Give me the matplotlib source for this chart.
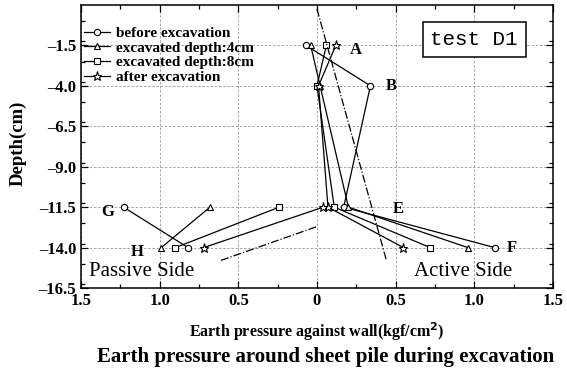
import matplotlib
matplotlib.use("Agg")
import matplotlib.pyplot as plt
from matplotlib.ticker import MultipleLocator

plt.rcParams["font.family"] = ["Liberation Serif", "DejaVu Serif"]

# depths (cm)
depth_active = [-1.5, -4.0, -11.5, -14.0]
depth_passive = [-11.5, -14.0]

# active side earth pressure (kgf/cm2), plotted to the right
before_active = [-0.07, 0.34, 0.17, 1.13]
exc4_active = [-0.04, 0.02, 0.20, 0.96]
exc8_active = [0.06, 0.00, 0.11, 0.72]
after_active = [0.12, 0.01, 0.07, 0.55]

# passive side earth pressure, plotted to the left (negative)
before_passive = [-1.23, -0.82]
exc4_passive = [-0.68, -0.99]
exc8_passive = [-0.24, -0.90]
after_passive = [0.04, -0.72]

# theoretical lines (dash-dot)
theory_active_x = [0.0, 0.44]
theory_active_y = [0.76, -14.73]
theory_passive_x = [-0.61, 0.0]
theory_passive_y = [-14.79, -12.7]

series = [
    ("before excavation", "o", before_active, before_passive),
    ("excavated depth:4cm", "^", exc4_active, exc4_passive),
    ("excavated depth:8cm", "s", exc8_active, exc8_passive),
    ("after excavation", "*", after_active, after_passive),
]

xticks = [-1.5, -1.0, -0.5, 0.0, 0.5, 1.0, 1.5]
xticklabels = ["1.5", "1.0", "0.5", "0", "0.5", "1.0", "1.5"]
yticks = [-1.5, -4.0, -6.5, -9.0, -11.5, -14.0, -16.5]

fig = plt.figure(figsize=(5.67, 3.78), dpi=100)
ax = fig.add_axes([0.143, 0.238, 0.832, 0.749])

for label, m, act, pas in series:
    ms = 6.5 if m == "*" else 4.5
    ax.plot(act, depth_active, color="black", lw=0.9, marker=m, ms=ms,
            mfc="white", mec="black", mew=0.8, label=label)
    ax.plot(pas, depth_passive, color="black", lw=0.9, marker=m, ms=ms,
            mfc="white", mec="black", mew=0.8)

ax.plot(theory_active_x, theory_active_y, color="black", lw=0.9, ls="-.")
ax.plot(theory_passive_x, theory_passive_y, color="black", lw=0.9, ls="-.")

ax.set_xlim(-1.5, 1.5)
ax.set_ylim(-16.5, 1.0)
ax.set_xticks(xticks)
ax.set_xticklabels(xticklabels)
ax.set_yticks(yticks)
ax.set_yticklabels([f"{v:.1f}".replace("-", "\u2013") for v in yticks])
ax.xaxis.set_minor_locator(MultipleLocator(0.25))
ax.yaxis.set_minor_locator(MultipleLocator(1.25))
ax.tick_params(which="both", direction="in", top=True, right=True, width=0.9)
ax.tick_params(which="major", length=5, labelsize=12)
ax.tick_params(which="minor", length=3)
for t in ax.get_xticklabels() + ax.get_yticklabels():
    t.set_fontweight("bold")
for s in ax.spines.values():
    s.set_linewidth(1.1)
ax.grid(True, which="major", ls=(0, (3, 2)), color="#999999", lw=0.6)

ax.set_ylabel("Depth(cm)", fontsize=13.5, fontweight="bold", va="center")
ax.yaxis.set_label_coords(-0.133, 0.51)
ax.set_xlabel("Earth pressure against wall(kgf/cm$^\\mathbf{2}$)", fontsize=11.5,
              fontweight="bold", labelpad=8)

for txt, x, y in [("A", 0.25, -1.8), ("B", 0.47, -4.0), ("E", 0.52, -11.6),
                  ("F", 1.24, -14.0), ("G", -1.33, -11.8), ("H", -1.14, -14.3)]:
    ax.text(x, y, txt, fontsize=12, fontweight="bold", ha="center", va="center")

ax.text(-1.45, -15.5, "Passive Side", fontsize=15, ha="left", va="center")
ax.text(1.24, -15.5, "Active Side", fontsize=15, ha="right", va="center")

ax.text(1.0, -1.13, "test D1", fontsize=15, family="Liberation Mono",
        ha="center", va="center",
        bbox=dict(boxstyle="square,pad=0.38", fc="white", ec="black", lw=1.1))

leg = ax.legend(loc="upper left", bbox_to_anchor=(0.0, 0.935), frameon=False,
                fontsize=11, handlelength=1.7, handletextpad=0.4,
                labelspacing=0.06, borderpad=0.1, borderaxespad=0.1)
for t in leg.get_texts():
    t.set_fontweight("bold")

fig.text(0.574, 0.055, "Earth pressure around sheet pile during excavation",
         fontsize=15, fontweight="bold", ha="center", va="center")

fig.savefig("out.png", dpi=100)
